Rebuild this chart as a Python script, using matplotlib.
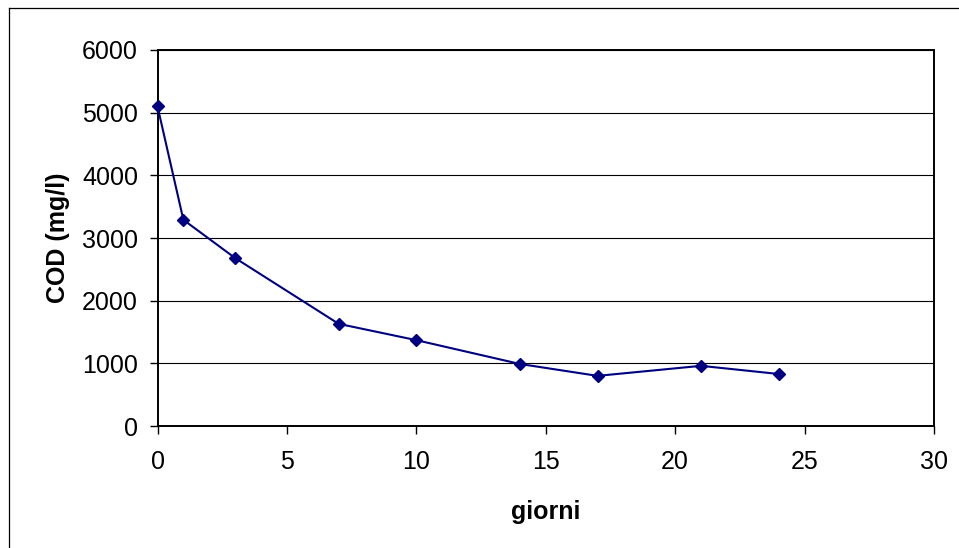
import matplotlib
matplotlib.use("Agg")
import matplotlib.pyplot as plt
from matplotlib.lines import Line2D

giorni = [0, 1, 3, 7, 10, 14, 17, 21, 24]
cod = [5100, 3290, 2680, 1630, 1370, 990, 800, 960, 830]

x_ticks = [0, 5, 10, 15, 20, 25, 30]
y_ticks = [0, 1000, 2000, 3000, 4000, 5000, 6000]

plt.rcParams['font.family'] = ['Liberation Sans', 'DejaVu Sans']

fig = plt.figure(figsize=(9.59, 5.48), dpi=100)
W, H = 959, 548
ax = fig.add_axes([157.5 / W, 1 - 426 / H, (934 - 157.5) / W, (426 - 50) / H])

ax.plot(giorni, cod, color="#000080", lw=1.5, marker="D", ms=6.3,
        markerfacecolor="#000080", markeredgecolor="#000080", zorder=3, clip_on=False)

ax.set_xlim(0, 30)
ax.set_ylim(0, 6000)
ax.set_xticks(x_ticks)
ax.set_yticks(y_ticks)
ax.tick_params(axis="both", labelsize=18, direction="out", length=6, width=1, color="black")
ax.tick_params(axis="x", pad=11)
ax.tick_params(axis="y", pad=8)

ax.yaxis.grid(True, color="black", lw=0.8)
ax.set_axisbelow(True)
for s in ax.spines.values():
    s.set_linewidth(1.4)
    s.set_color("black")

ax.set_xlabel("giorni", fontsize=18, fontweight="bold", labelpad=19)
ax.set_ylabel("COD (mg/l)", fontsize=18, fontweight="bold", labelpad=9)

# outer chart frame (only top and left edges fall inside the image)
fig.add_artist(Line2D([9 / W, 1], [1 - 7.5 / H] * 2, color="black", lw=0.9, transform=fig.transFigure))
fig.add_artist(Line2D([9 / W] * 2, [0, 1 - 7.5 / H], color="black", lw=0.9, transform=fig.transFigure))

fig.savefig("out.png", dpi=100)
